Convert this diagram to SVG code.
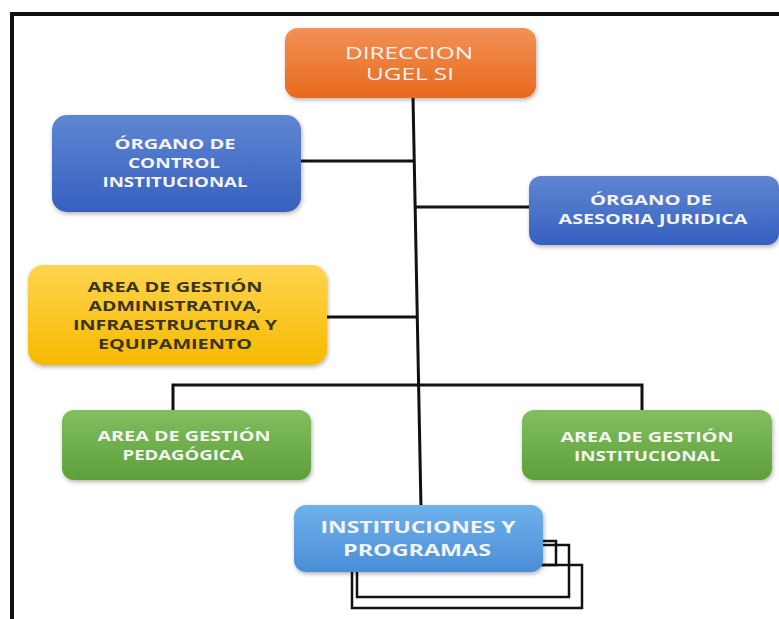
<svg xmlns="http://www.w3.org/2000/svg" width="779" height="619" viewBox="0 0 779 619">
  <defs>
    <linearGradient id="gOrange" x1="0" y1="0" x2="0" y2="1">
      <stop offset="0" stop-color="#f29157"/>
      <stop offset="1" stop-color="#e8691c"/>
    </linearGradient>
    <linearGradient id="gBlue" x1="0" y1="0" x2="0" y2="1">
      <stop offset="0" stop-color="#5f86d2"/>
      <stop offset="1" stop-color="#3660bf"/>
    </linearGradient>
    <linearGradient id="gYellow" x1="0" y1="0" x2="0" y2="1">
      <stop offset="0" stop-color="#ffd54f"/>
      <stop offset="1" stop-color="#f6b900"/>
    </linearGradient>
    <linearGradient id="gGreen" x1="0" y1="0" x2="0" y2="1">
      <stop offset="0" stop-color="#82bf5f"/>
      <stop offset="1" stop-color="#5d9f3a"/>
    </linearGradient>
    <linearGradient id="gSky" x1="0" y1="0" x2="0" y2="1">
      <stop offset="0" stop-color="#70b1ea"/>
      <stop offset="1" stop-color="#4a8ed8"/>
    </linearGradient>
    <filter id="shadow" x="-10%" y="-10%" width="125%" height="130%">
      <feDropShadow dx="1" dy="2" stdDeviation="2" flood-color="#000" flood-opacity="0.3"/>
    </filter>
  </defs>
  <style>
    .box { filter: url(#shadow); }
    .lbl { font-family: "Open Sans", "DejaVu Sans", sans-serif; font-weight: bold; text-anchor: middle; fill: #f4f4f4; font-size: 13.5px; }
    .big { font-size: 16px; }
    .thin { font-weight: normal; font-size: 15.5px; }
    .dark { fill: #3b3420; }
    .wire { stroke: #111; stroke-width: 3; fill: none; }
    .stack { stroke: #111; stroke-width: 2.5; fill: none; }
  </style>

  <rect width="779" height="619" fill="#ffffff"/>

  <!-- outer frame -->
  <g id="frame">
    <line x1="12" y1="12" x2="12" y2="619" stroke="#111" stroke-width="4"/>
    <line x1="10" y1="14" x2="779" y2="14" stroke="#111" stroke-width="4"/>
  </g>

  <!-- connectors -->
  <g id="connectors" class="wire">
    <line x1="413" y1="97" x2="421" y2="508"/>
    <line x1="301" y1="161" x2="415" y2="161"/>
    <line x1="416" y1="207" x2="529" y2="207"/>
    <line x1="327" y1="317" x2="418" y2="317"/>
    <polyline points="173,410 173,385 642,385 642,410"/>
  </g>

  <!-- stacked sheets behind the last node -->
  <g id="stack" class="stack">
    <rect x="310" y="541" width="246" height="24"/>
    <rect x="357" y="545" width="212" height="52"/>
    <rect x="352" y="565" width="230" height="43"/>
  </g>

  <g id="direccion">
    <rect class="box" x="285" y="28" width="251" height="70" rx="13" fill="url(#gOrange)"/>
    <text class="lbl thin" x="409" y="59" textLength="128" lengthAdjust="spacingAndGlyphs">DIRECCION</text>
    <text class="lbl thin" x="410" y="80" textLength="88" lengthAdjust="spacingAndGlyphs">UGEL SI</text>
  </g>

  <g id="organo-control">
    <rect class="box" x="52" y="115" width="249" height="97" rx="15" fill="url(#gBlue)"/>
    <text class="lbl" x="175" y="149" textLength="121" lengthAdjust="spacingAndGlyphs">ÓRGANO DE</text>
    <text class="lbl" x="174" y="168" textLength="92" lengthAdjust="spacingAndGlyphs">CONTROL</text>
    <text class="lbl" x="175" y="187" textLength="145" lengthAdjust="spacingAndGlyphs">INSTITUCIONAL</text>
  </g>

  <g id="organo-asesoria">
    <rect class="box" x="529" y="176" width="250" height="69" rx="12" fill="url(#gBlue)"/>
    <text class="lbl" x="651" y="205" textLength="122" lengthAdjust="spacingAndGlyphs">ÓRGANO DE</text>
    <text class="lbl" x="653" y="224" textLength="189" lengthAdjust="spacingAndGlyphs">ASESORIA JURIDICA</text>
  </g>

  <g id="area-administrativa">
    <rect class="box" x="28" y="265" width="299" height="100" rx="15" fill="url(#gYellow)"/>
    <text class="lbl dark" x="175" y="292" textLength="175" lengthAdjust="spacingAndGlyphs">AREA DE GESTIÓN</text>
    <text class="lbl dark" x="175" y="311" textLength="173" lengthAdjust="spacingAndGlyphs">ADMINISTRATIVA,</text>
    <text class="lbl dark" x="175" y="330" textLength="204" lengthAdjust="spacingAndGlyphs">INFRAESTRUCTURA Y</text>
    <text class="lbl dark" x="175" y="349" textLength="154" lengthAdjust="spacingAndGlyphs">EQUIPAMIENTO</text>
  </g>

  <g id="area-pedagogica">
    <rect class="box" x="62" y="410" width="249" height="70" rx="12" fill="url(#gGreen)"/>
    <text class="lbl" x="184" y="441" textLength="173" lengthAdjust="spacingAndGlyphs">AREA DE GESTIÓN</text>
    <text class="lbl" x="183" y="460" textLength="121" lengthAdjust="spacingAndGlyphs">PEDAGÓGICA</text>
  </g>

  <g id="area-institucional">
    <rect class="box" x="522" y="410" width="250" height="70" rx="12" fill="url(#gGreen)"/>
    <text class="lbl" x="647" y="442" textLength="173" lengthAdjust="spacingAndGlyphs">AREA DE GESTIÓN</text>
    <text class="lbl" x="647" y="461" textLength="146" lengthAdjust="spacingAndGlyphs">INSTITUCIONAL</text>
  </g>

  <g id="instituciones">
    <rect class="box" x="294" y="505" width="249" height="67" rx="12" fill="url(#gSky)"/>
    <text class="lbl big" x="418" y="533" textLength="195" lengthAdjust="spacingAndGlyphs">INSTITUCIONES Y</text>
    <text class="lbl big" x="417" y="556" textLength="148" lengthAdjust="spacingAndGlyphs">PROGRAMAS</text>
  </g>
</svg>
